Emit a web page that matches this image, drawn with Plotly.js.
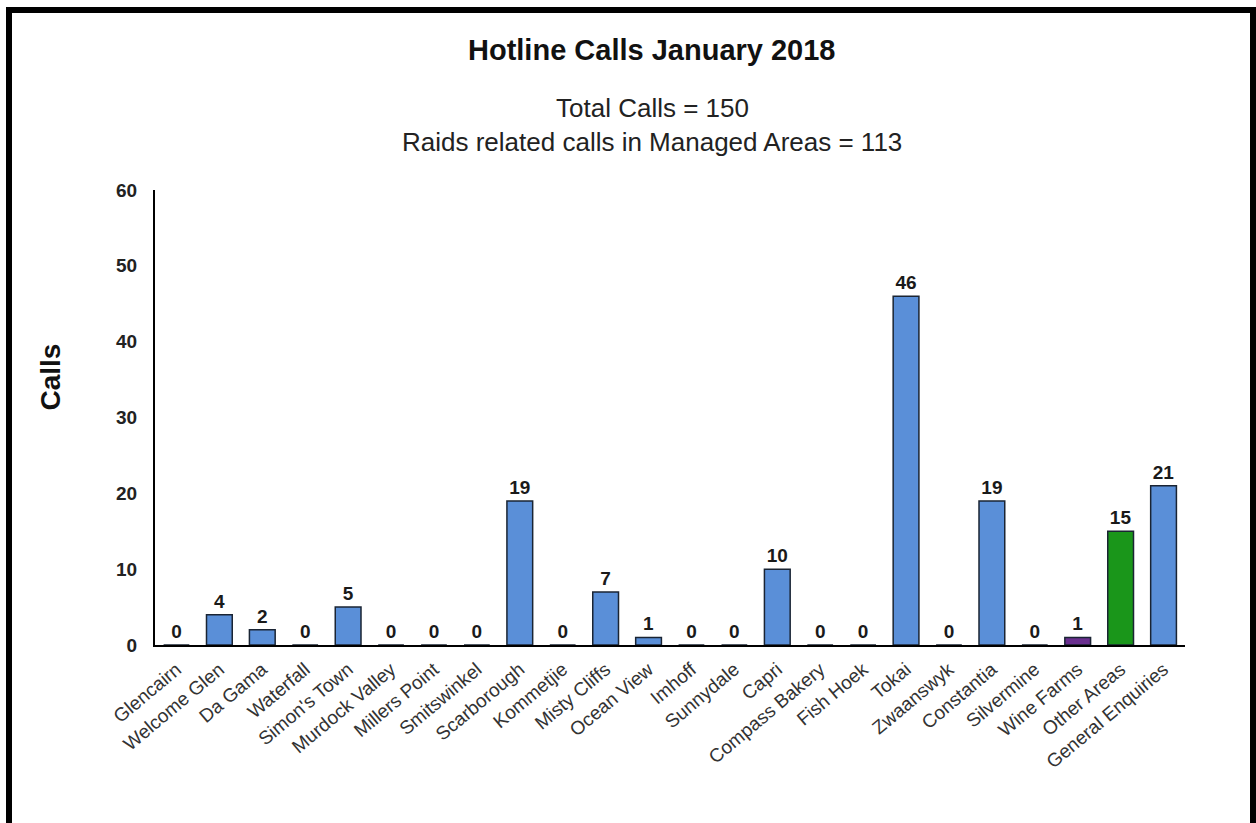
<!DOCTYPE html>
<html>
<head>
<meta charset="utf-8">
<script src="https://cdn.plot.ly/plotly-3.0.1.min.js"></script>
<style>
  html, body { margin: 0; padding: 0; background: #fff; }
  #wrap { position: relative; width: 1256px; height: 823px; overflow: hidden; }
  #chart { position: absolute; left: 0; top: 0; width: 1256px; height: 823px; }
  #frame { position: absolute; left: 6px; top: 7px; width: 1250px; height: 900px;
           box-sizing: border-box; border: 6px solid #000; border-bottom: none; pointer-events: none; }
</style>
</head>
<body>
<div id="wrap">
  <div id="chart"></div>
  <div id="frame"></div>
</div>
<script>
const areas = ["Glencairn", "Welcome Glen", "Da Gama", "Waterfall", "Simon's Town", "Murdock Valley",
  "Millers Point", "Smitswinkel", "Scarborough", "Kommetjie", "Misty Cliffs", "Ocean View",
  "Imhoff", "Sunnydale", "Capri", "Compass Bakery", "Fish Hoek", "Tokai", "Zwaanswyk",
  "Constantia", "Silvermine", "Wine Farms", "Other Areas", "General Enquiries"];
const calls = [0, 4, 2, 0, 5, 0, 0, 0, 19, 0, 7, 1, 0, 0, 10, 0, 0, 46, 0, 19, 0, 1, 15, 21];
const barColors = ["#5a8fd8", "#5a8fd8", "#5a8fd8", "#5a8fd8", "#5a8fd8", "#5a8fd8",
  "#5a8fd8", "#5a8fd8", "#5a8fd8", "#5a8fd8", "#5a8fd8", "#5a8fd8",
  "#5a8fd8", "#5a8fd8", "#5a8fd8", "#5a8fd8", "#5a8fd8", "#5a8fd8", "#5a8fd8",
  "#5a8fd8", "#5a8fd8", "#6a2f8f", "#1a961a", "#5a8fd8"];
const yTicks = [0, 10, 20, 30, 40, 50, 60];
const titleText = "Hotline Calls January 2018";
const subtitleLines = ["Total Calls = 150", "Raids related calls in Managed Areas = 113"];
const yTitle = "Calls";

const FONT = "Liberation Sans, Arial, sans-serif";

const trace = {
  type: "bar",
  x: areas,
  y: calls,
  width: 0.6,
  marker: { color: barColors, line: { color: "#1a2433", width: 1.5 } },
  text: calls.map(String),
  textposition: "outside",
  cliponaxis: false,
  textfont: { family: FONT, size: 19, color: "#1a1a1a", weight: "bold" },
  hoverinfo: "x+y"
};

const layout = {
  width: 1256, height: 823,
  paper_bgcolor: "#fff", plot_bgcolor: "#fff",
  margin: { l: 155, r: 71, t: 190, b: 178 },
  showlegend: false,
  font: { family: FONT, color: "#222" },
  xaxis: {
    type: "category",
    tickangle: -40,
    tickfont: { family: FONT, size: 19, color: "#333" },
    ticklabelstandoff: 4,
    showline: true, linecolor: "#000", linewidth: 2,
    ticks: "", showgrid: false, zeroline: false,
    fixedrange: true
  },
  yaxis: {
    range: [0, 60],
    tickvals: yTicks,
    ticktext: yTicks.map(String),
    tickfont: { family: FONT, size: 19, color: "#222", weight: "bold" },
    showline: true, linecolor: "#000", linewidth: 2,
    ticks: "", ticklen: 0, showgrid: false, zeroline: false,
    ticklabelstandoff: 12,
    fixedrange: true
  },
  bargap: 0.4,
  annotations: [
    { text: titleText, xref: "paper", yref: "paper", x: 0.483, y: 1, yshift: 140,
      xanchor: "center", yanchor: "middle", showarrow: false,
      font: { family: FONT, size: 29, color: "#111", weight: "bold" } },
    { text: subtitleLines[0], xref: "paper", yref: "paper", x: 0.483, y: 1, yshift: 82,
      xanchor: "center", yanchor: "middle", showarrow: false,
      font: { family: FONT, size: 26, color: "#222" } },
    { text: subtitleLines[1], xref: "paper", yref: "paper", x: 0.483, y: 1, yshift: 48,
      xanchor: "center", yanchor: "middle", showarrow: false,
      font: { family: FONT, size: 26, color: "#222" } },
    { text: yTitle, xref: "paper", yref: "paper", x: -0.101, y: 0.59, textangle: -90,
      xanchor: "center", yanchor: "middle", showarrow: false,
      font: { family: FONT, size: 28, color: "#111", weight: "bold" } }
  ]
};

Plotly.newPlot("chart", [trace], layout, { displayModeBar: false, staticPlot: true });
</script>
</body>
</html>
